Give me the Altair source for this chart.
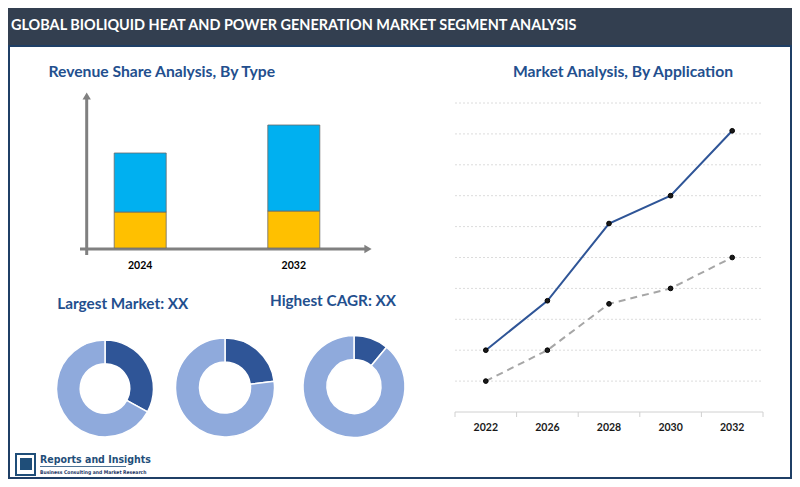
import altair as alt
import pandas as pd

# ---------------- text ----------------
header_title = "GLOBAL BIOLIQUID HEAT AND POWER GENERATION MARKET SEGMENT ANALYSIS"
bar_title = "Revenue Share Analysis, By Type"
line_title = "Market Analysis, By Application"
donut_title_left = "Largest Market: XX"
donut_title_right = "Highest CAGR: XX"
brand_name = "Reports and Insights"
brand_tagline = "Business Consulting and Market Research"

# ---------------- data ----------------
bar_years = ["2024", "2032"]
bar_yellow = [3.6, 3.7]
bar_blue = [5.9, 8.6]

line_years = ["2022", "2026", "2028", "2030", "2032"]
line_blue = [2.0, 3.6, 6.1, 7.0, 9.1]
line_gray = [1.0, 2.0, 3.5, 4.0, 5.0]
grid_values = [1, 2, 3, 4, 5, 6, 7, 8, 9, 10]

donut_dark = [33, 23, 11]
donut_light = [67, 77, 89]

# ---------------- style ----------------
W, H = 784, 471
FONT = "Lato"
TITLE_BLUE = "#234f8e"
NAVY = "#1f3f66"

one = pd.DataFrame({"k": [0]})


def txt(s, x, y, size, color, align="center", weight="bold", font=FONT):
    return alt.Chart(one).mark_text(
        text=s, align=align, baseline="middle", fontSize=size,
        fontWeight=weight, color=color, font=font
    ).encode(x=alt.value(x), y=alt.value(y))


def rule(x, x2, y, y2, color, width, **kw):
    return alt.Chart(one).mark_rule(color=color, strokeWidth=width, **kw).encode(
        x=alt.value(x), x2=alt.value(x2), y=alt.value(y), y2=alt.value(y2)
    )


def box(x, x2, y, y2, **kw):
    return alt.Chart(one).mark_rect(**kw).encode(
        x=alt.value(x), x2=alt.value(x2), y=alt.value(y), y2=alt.value(y2)
    )


def tri(x, y, shape, size, color):
    return alt.Chart(one).mark_point(
        shape=shape, size=size, filled=True, color=color, opacity=1
    ).encode(x=alt.value(x), y=alt.value(y))


# ---------------- frame ----------------
header_bg = box(0, W, 0, 39, color="#333f50")
header_txt = txt(header_title, 3, 18, 14.45, "white", align="left")
border = box(1, W - 1, 38, H - 1, fillOpacity=0, stroke=NAVY, strokeWidth=2)

# ---------------- bar panel ----------------
bar_df = pd.DataFrame({
    "year": bar_years * 2,
    "seg": ["Yellow"] * 2 + ["Blue"] * 2,
    "value": bar_yellow + bar_blue,
    "ord": [0, 0, 1, 1],
})
bx = alt.Scale(domain=bar_years, range=[55.4, 362.6], paddingInner=0, paddingOuter=0)
by = alt.Scale(domain=[0, 14], range=[240, 100], nice=False)
bars = alt.Chart(bar_df).mark_bar(width=52, stroke="#6b6b6b", strokeWidth=0.8).encode(
    x=alt.X("year:N", scale=bx, axis=None),
    y=alt.Y("value:Q", stack="zero", scale=by, axis=None),
    color=alt.Color("seg:N", scale=alt.Scale(domain=["Yellow", "Blue"], range=["#ffc000", "#00b0f0"]), legend=None),
    order=alt.Order("ord:Q"),
)
bar_labels = alt.Chart(pd.DataFrame({"year": bar_years})).mark_text(
    fontSize=10.5, fontWeight="bold", color="black", font=FONT, baseline="middle"
).encode(x=alt.X("year:N", scale=bx, axis=None), y=alt.value(258), text="year:N")
bar_group = alt.layer(bars, bar_labels)

bar_axes = alt.layer(
    rule(78.7, 78.7, 89, 247, "#808080", 3),
    rule(72, 358, 241, 241, "#808080", 3),
    tri(78.7, 88, "triangle-up", 70, "#808080"),
    tri(360, 241, "triangle-right", 70, "#808080"),
)

# ---------------- line panel ----------------
lx = alt.Scale(domain=line_years, range=[447, 755], paddingInner=0, paddingOuter=0)
ly = alt.Scale(domain=[0, 10], range=[404, 95], nice=False)
line_df = pd.DataFrame({
    "year": line_years * 2,
    "series": ["A"] * 5 + ["B"] * 5,
    "value": line_blue + line_gray,
})
grid = alt.Chart(pd.DataFrame({"g": grid_values})).mark_rule(
    color="#dcdcdc", strokeWidth=1, strokeDash=[2, 2]
).encode(x=alt.value(447), x2=alt.value(755), y=alt.Y("g:Q", scale=ly, axis=None))
blue_line = alt.Chart(line_df[line_df.series == "A"]).mark_line(color="#2f5597", strokeWidth=2).encode(
    x=alt.X("year:N", scale=lx, axis=None), y=alt.Y("value:Q", scale=ly, axis=None)
)
gray_line = alt.Chart(line_df[line_df.series == "B"]).mark_line(
    color="#a6a6a6", strokeWidth=2, strokeDash=[7, 5]
).encode(x=alt.X("year:N", scale=lx, axis=None), y=alt.Y("value:Q", scale=ly, axis=None))
pts = alt.Chart(line_df).mark_circle(size=22, color="#1a1a1a", stroke="black", strokeWidth=1, opacity=1).encode(
    x=alt.X("year:N", scale=lx, axis=None), y=alt.Y("value:Q", scale=ly, axis=None)
)
ticks = alt.Chart(pd.DataFrame({"year": line_years})).mark_rule(color="#d0d0d0", strokeWidth=1).encode(
    x=alt.X("year:N", scale=lx, axis=None, bandPosition=0), y=alt.value(404), y2=alt.value(409)
)
year_labels = alt.Chart(pd.DataFrame({"year": line_years})).mark_text(
    fontSize=10.5, fontWeight="bold", color="#1a1a1a", font=FONT, baseline="middle"
).encode(x=alt.X("year:N", scale=lx, axis=None), y=alt.value(420), text="year:N")
line_group = alt.layer(grid, ticks, blue_line, gray_line, pts, year_labels)
line_axis = alt.layer(
    rule(447, 755, 404, 404, "#d0d0d0", 1),
    rule(755, 755, 404, 409, "#d0d0d0", 1),
)

# ---------------- donuts ----------------
donut_geo = [(97, 380.5, 24.8, 48.5), (217, 379.5, 25.5, 49.5), (346, 378.5, 27, 51)]
donuts = []
for i, (cx, cy, r_in, r_out) in enumerate(donut_geo):
    ddf = pd.DataFrame({
        "part": ["dark", "light"],
        "value": [donut_dark[i], donut_light[i]],
        "ord": [0, 1],
    })
    donuts.append(
        alt.Chart(ddf).mark_arc(innerRadius=r_in, outerRadius=r_out, stroke="white", strokeWidth=1.5).encode(
            theta=alt.Theta("value:Q", stack=True),
            color=alt.Color("part:N", scale=alt.Scale(domain=["dark", "light"], range=["#2f5597", "#8faadc"]), legend=None),
            order=alt.Order("ord:Q"),
            x=alt.value(cx),
            y=alt.value(cy),
        )
    )

# ---------------- titles ----------------
titles = alt.layer(
    txt(bar_title, 153.7, 64, 15.7, TITLE_BLUE),
    txt(line_title, 615, 64, 15.7, TITLE_BLUE),
    txt(donut_title_left, 114.8, 296, 15.3, TITLE_BLUE),
    txt(donut_title_right, 325, 293, 15.3, TITLE_BLUE),
)

# ---------------- logo ----------------
logo = alt.layer(
    box(8, 27, 446, 467, fill="white", stroke="#1f4e79", strokeWidth=2),
    box(12, 24, 450, 462, color="#1f4e79"),
    txt(brand_name, 32, 452, 10.5, "#1f4e79", align="left", font="DejaVu Sans Condensed"),
    rule(32, 118, 458.5, 458.5, "#1f4e79", 0.8),
    txt(brand_tagline, 32, 463.5, 5, "#1f3864", align="left", font="DejaVu Sans Condensed"),
)

chart = alt.layer(
    header_bg, header_txt, border,
    bar_axes, bar_group,
    line_group, line_axis,
    *donuts,
    titles, logo,
).resolve_scale(
    x="independent", y="independent", color="independent", theta="independent"
).properties(
    width=W, height=H, padding=0, autosize="none"
).configure_view(stroke=None)

chart.save("out.html", embed_options={"renderer": "svg", "actions": False})
